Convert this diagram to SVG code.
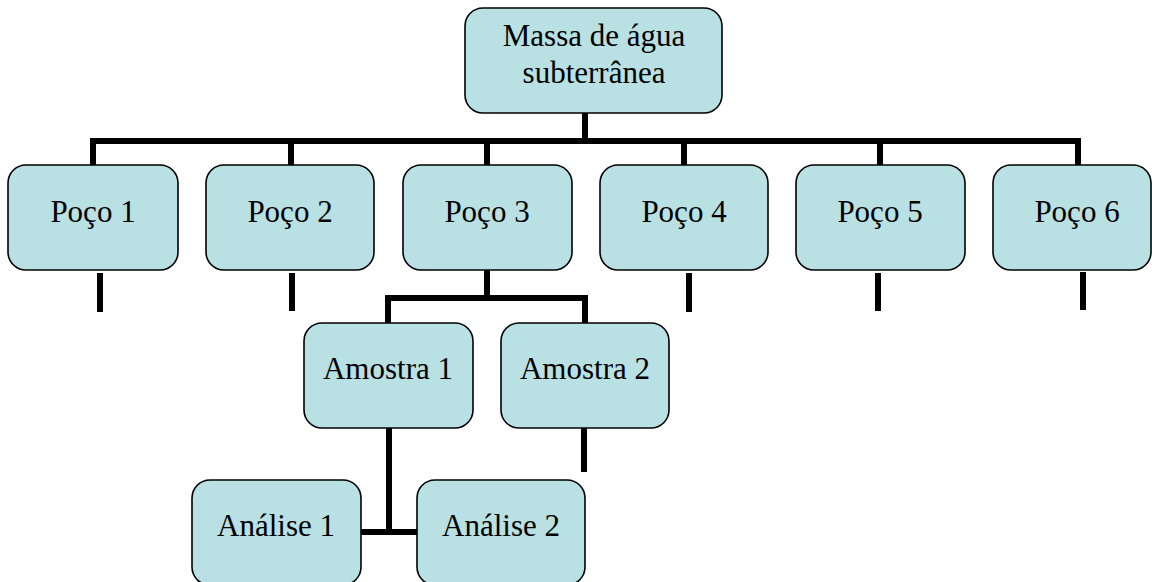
<svg xmlns="http://www.w3.org/2000/svg" width="1152" height="582" viewBox="0 0 1152 582">
  <style>
    .box { fill: #b9e0e3; stroke: #000; stroke-width: 1.6; }
    .lbl { font-family: "Liberation Serif", "Times New Roman", serif; font-size: 31px; fill: #000; text-anchor: middle; }
    .wire { fill: none; stroke: #000; stroke-width: 6; stroke-linecap: butt; stroke-linejoin: miter; }
  </style>
  <rect width="1152" height="582" fill="#fff"/>

  <!-- connectors -->
  <g id="connectors" class="wire">
    <!-- root trunk and level-1 bus -->
    <path d="M585,113 V141"/>
    <path d="M93,165 V141 H1078 V165"/>
    <path d="M291,141 V165"/>
    <path d="M487,141 V165"/>
    <path d="M684,141 V165"/>
    <path d="M880,141 V165"/>
    <!-- stubs under wells -->
    <path d="M100,273 V312"/>
    <path d="M292,273 V311"/>
    <path d="M689,273 V312"/>
    <path d="M878,273 V311"/>
    <path d="M1083,272 V310"/>
    <!-- well 3 to samples -->
    <path d="M487,270 V298"/>
    <path d="M388,323 V298 H585 V323"/>
    <!-- sample 2 stub -->
    <path d="M584,425 V472"/>
    <!-- sample 1 to analyses -->
    <path d="M389,428 V532"/>
    <path d="M361,532 H417"/>
  </g>

  <g id="root">
    <rect class="box" x="465" y="8" width="257" height="105" rx="18"/>
    <text class="lbl" x="594" y="46">Massa de água</text>
    <text class="lbl" x="594" y="83">subterrânea</text>
  </g>

  <g id="poco1">
    <rect class="box" x="8" y="165" width="170" height="105" rx="18"/>
    <text class="lbl" x="93" y="222">Poço 1</text>
  </g>
  <g id="poco2">
    <rect class="box" x="206" y="165" width="168" height="105" rx="18"/>
    <text class="lbl" x="290" y="222">Poço 2</text>
  </g>
  <g id="poco3">
    <rect class="box" x="403" y="165" width="169" height="105" rx="18"/>
    <text class="lbl" x="487" y="222">Poço 3</text>
  </g>
  <g id="poco4">
    <rect class="box" x="600" y="165" width="168" height="105" rx="18"/>
    <text class="lbl" x="684" y="222">Poço 4</text>
  </g>
  <g id="poco5">
    <rect class="box" x="796" y="165" width="169" height="105" rx="18"/>
    <text class="lbl" x="880" y="222">Poço 5</text>
  </g>
  <g id="poco6">
    <rect class="box" x="993" y="165" width="158" height="105" rx="18"/>
    <text class="lbl" x="1077" y="222">Poço 6</text>
  </g>

  <g id="amostra1">
    <rect class="box" x="304" y="323" width="169" height="105" rx="18"/>
    <text class="lbl" x="388" y="379">Amostra 1</text>
  </g>
  <g id="amostra2">
    <rect class="box" x="501" y="323" width="168" height="105" rx="18"/>
    <text class="lbl" x="585" y="379">Amostra 2</text>
  </g>

  <g id="analise1">
    <rect class="box" x="192" y="480" width="169" height="105" rx="18"/>
    <text class="lbl" x="276" y="536">Análise 1</text>
  </g>
  <g id="analise2">
    <rect class="box" x="417" y="480" width="168" height="105" rx="18"/>
    <text class="lbl" x="501" y="536">Análise 2</text>
  </g>
</svg>
